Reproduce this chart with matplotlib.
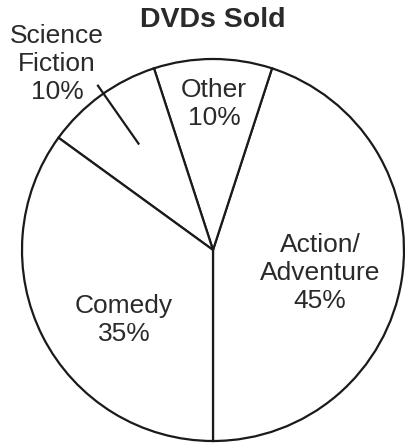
import matplotlib
matplotlib.use("Agg")
import matplotlib.pyplot as plt
import numpy as np

plt.rcParams['font.family'] = ['Liberation Sans', 'DejaVu Sans']

categories = ["Action/\nAdventure", "Other", "Science\nFiction", "Comedy"]
values = [45, 10, 10, 35]
pct_labels = ["45%", "10%", "10%", "35%"]
title = "DVDs Sold"

W, H = 405, 448
fig = plt.figure(figsize=(W / 100, H / 100), dpi=100)
ax = fig.add_axes([0, 0, 1, 1])
ax.set_xlim(0, W)
ax.set_ylim(0, H)
ax.set_aspect('equal')
ax.axis('off')

cx, cy, r = 213, 448 - 250, 191
wedges, _ = ax.pie(values, startangle=-90, counterclock=True, center=(cx, cy), radius=r,
                   colors=['white'] * 4,
                   wedgeprops=dict(edgecolor='#1a1a1a', linewidth=1.6))
ax.set_xlim(0, W)
ax.set_ylim(0, H)

fs = 19
col = '#2a2a2a'
# Action / Adventure
ax.text(320, H - 273, categories[0] + "\n" + pct_labels[0], ha='center', va='center',
        fontsize=fs, color=col, linespacing=1.2)
# Other
ax.text(214, H - 104, categories[1] + "\n" + pct_labels[1], ha='center', va='center',
        fontsize=fs, color=col, linespacing=1.2)
# Comedy
ax.text(124, H - 320, categories[3] + "\n" + pct_labels[3], ha='center', va='center',
        fontsize=fs, color=col, linespacing=1.2)
# Science Fiction (outside)
ax.text(57, H - 64, categories[2] + "\n" + pct_labels[2], ha='center', va='center',
        fontsize=fs, color=col, linespacing=1.2)

# leader line for Science Fiction
w = wedges[2]
mid = np.deg2rad((w.theta1 + w.theta2) / 2 - 1)
r0, r1 = 0.68 * r, 1.05 * r
ax.plot([cx + r0 * np.cos(mid), cx + r1 * np.cos(mid)],
        [cy + r0 * np.sin(mid), cy + r1 * np.sin(mid)], color='#1a1a1a', lw=1.6)

ax.text(213, H - 20, title, ha='center', va='center', fontsize=20.5, fontweight='bold',
        color=col)

fig.savefig("out.png", dpi=100, facecolor='white')
